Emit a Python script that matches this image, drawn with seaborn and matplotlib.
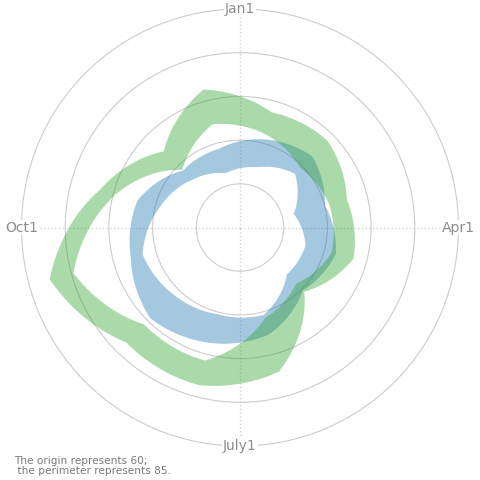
import numpy as np
import seaborn as sns
from matplotlib import pyplot as plt

months = ["Jan", "Feb", "Mar", "Apr", "May", "Jun",
          "Jul", "Aug", "Sep", "Oct", "Nov", "Dec"]
green_hi = [73.7, 74.1, 72.6, 73.4, 70.3, 77.0, 78.6, 78.5, 82.6, 76.7, 72.4, 76.4]
green_lo = [71.1, 69.7, 70.5, 70.8, 69.0, 70.7, 75.7, 75.6, 79.8, 74.8, 69.4, 72.3]
blue_hi = [70.5, 71.6, 70.0, 71.3, 70.1, 72.6, 73.6, 74.6, 73.0, 72.2, 69.3, 69.4]
blue_lo = [67.2, 68.8, 66.3, 67.7, 67.5, 70.3, 70.2, 70.8, 71.6, 69.5, 67.8, 66.5]

axis_labels = ["Jan1", "Apr1", "July1", "Oct1"]
r_min, r_max = 60, 85
rings = [65, 70, 75, 80]


def closed(vals):
    #wrap the year around so the band closes
    return np.append(vals, vals[0])


def band(ax, lo, hi, color):
    theta = (np.arange(len(months)) + 0.5) / len(months) * 2 * np.pi
    theta = np.append(theta, theta[0] + 2 * np.pi)
    coll = ax.fill_between(theta, closed(lo), closed(hi), color=color,
                           alpha=0.4, linewidth=0)
    #draw the edges as polar segments (spiral arcs) instead of chords
    for p in coll.get_paths():
        p._interpolation_steps = 40
    return coll


def main():
    sns.set_style("white")
    pal = sns.color_palette("tab10")

    fig = plt.figure(figsize=(4.8, 4.8), dpi=100)
    ax = fig.add_axes([0.0448, 0.0708, 0.9104, 0.9104], projection="polar")
    ax.set_theta_zero_location("N")
    ax.set_theta_direction(-1)

    band(ax, blue_lo, blue_hi, pal[0])
    band(ax, green_lo, green_hi, pal[2])

    ax.set_ylim(r_min, r_max)
    ax.set_xticks([])
    ax.set_yticks(rings)
    ax.set_yticklabels([])
    ax.yaxis.grid(True, color="#cccccc", linewidth=0.8, linestyle="-")
    ax.spines["polar"].set_color("#cccccc")
    ax.spines["polar"].set_linewidth(0.8)

    #dotted axes + quarter labels
    for i, lab in enumerate(axis_labels):
        t = i * np.pi / 2
        ax.plot([t, t], [r_min, r_max], color="#d4d4d4", linestyle=":",
                linewidth=1.0, zorder=0.5)
        ax.text(t, r_max, lab, ha="center", va="center", fontsize=10,
                color="#8c8c8c", clip_on=False, zorder=5,
                bbox=dict(facecolor="white", edgecolor="none", pad=0.5))

    fig.text(14 / 480, 1 - 456 / 480,
             "The origin represents 60;\n the perimeter represents 85.",
             fontsize=7.6, color="#7a7a7a", va="top", ha="left", linespacing=1.05)

    fig.savefig("out.png", dpi=100)


if __name__ == "__main__":
    main()
